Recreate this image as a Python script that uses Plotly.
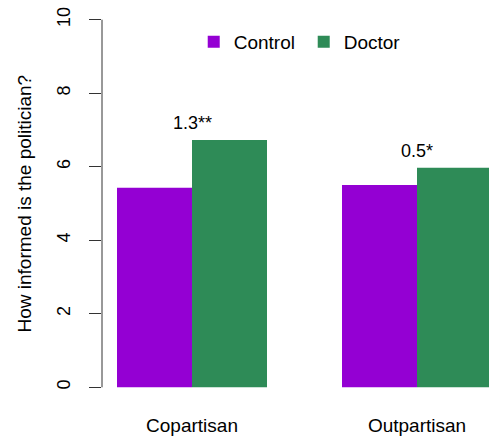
import plotly.graph_objects as go

categories = ["Copartisan", "Outpartisan"]
control_vals = [5.43, 5.50]
doctor_vals = [6.73, 5.97]
diff_labels = ["1.3**", "0.5*"]
y_ticks = [0, 2, 4, 6, 8, 10]

x_pos = [2, 5]  # group centers (R barplot beside=TRUE layout)

FONT = "Liberation Sans, Arial, Helvetica, sans-serif"

fig = go.Figure()
fig.add_trace(go.Bar(x=x_pos, y=control_vals, name="Control",
                     marker=dict(color="#9400D3", line=dict(width=0))))
fig.add_trace(go.Bar(x=x_pos, y=doctor_vals, name="Doctor",
                     marker=dict(color="#2E8B57", line=dict(width=0))))

for xp, c, d, lab in zip(x_pos, control_vals, doctor_vals, diff_labels):
    fig.add_annotation(x=xp, y=max(c, d) + 0.45, text=lab, showarrow=False,
                       xref="x", yref="y", yanchor="middle",
                       font=dict(size=18, color="black", family=FONT))

fig.add_annotation(text="How informed is the politician?", textangle=-90,
                   xref="paper", yref="paper", x=-0.199, y=0.5,
                   xanchor="center", yanchor="middle", showarrow=False,
                   font=dict(size=19, color="black", family=FONT))

# R-style axis line spanning only the tick range
fig.add_shape(type="line", xref="paper", yref="y", x0=0, x1=0,
              y0=min(y_ticks), y1=max(y_ticks), line=dict(color="#333", width=1))

fig.update_layout(
    width=489, height=439,
    margin=dict(l=102, r=0, t=5, b=37),
    paper_bgcolor="white", plot_bgcolor="white",
    barmode="group", bargap=1/3, bargroupgap=0,
    font=dict(family=FONT, color="black"),
    legend=dict(orientation="h", x=0.237, y=0.907, xanchor="left", yanchor="middle",
                font=dict(size=19, color="black", family=FONT),
                entrywidth=65, entrywidthmode="pixels",
                bgcolor="rgba(0,0,0,0)", itemclick=False),
    xaxis=dict(range=[0.8, 0.8 + 387 / 75], tickvals=x_pos, ticktext=categories,
               showgrid=False, zeroline=False, showline=False, ticks="",
               ticklabelstandoff=10,
               tickfont=dict(size=19, color="black", family=FONT)),
    yaxis=dict(range=[-0.4, 10.4], tickvals=y_ticks, ticks="outside", ticklen=12,
               tickwidth=1, tickcolor="#333", tickangle=-90,
               showgrid=False, zeroline=False, showline=False,
               ticklabelstandoff=12,
               tickfont=dict(size=18, color="black", family=FONT)),
)

fig.write_html("out.html", config={"displayModeBar": False},
               post_script="document.body.style.margin='0';document.body.style.overflow='hidden';")
